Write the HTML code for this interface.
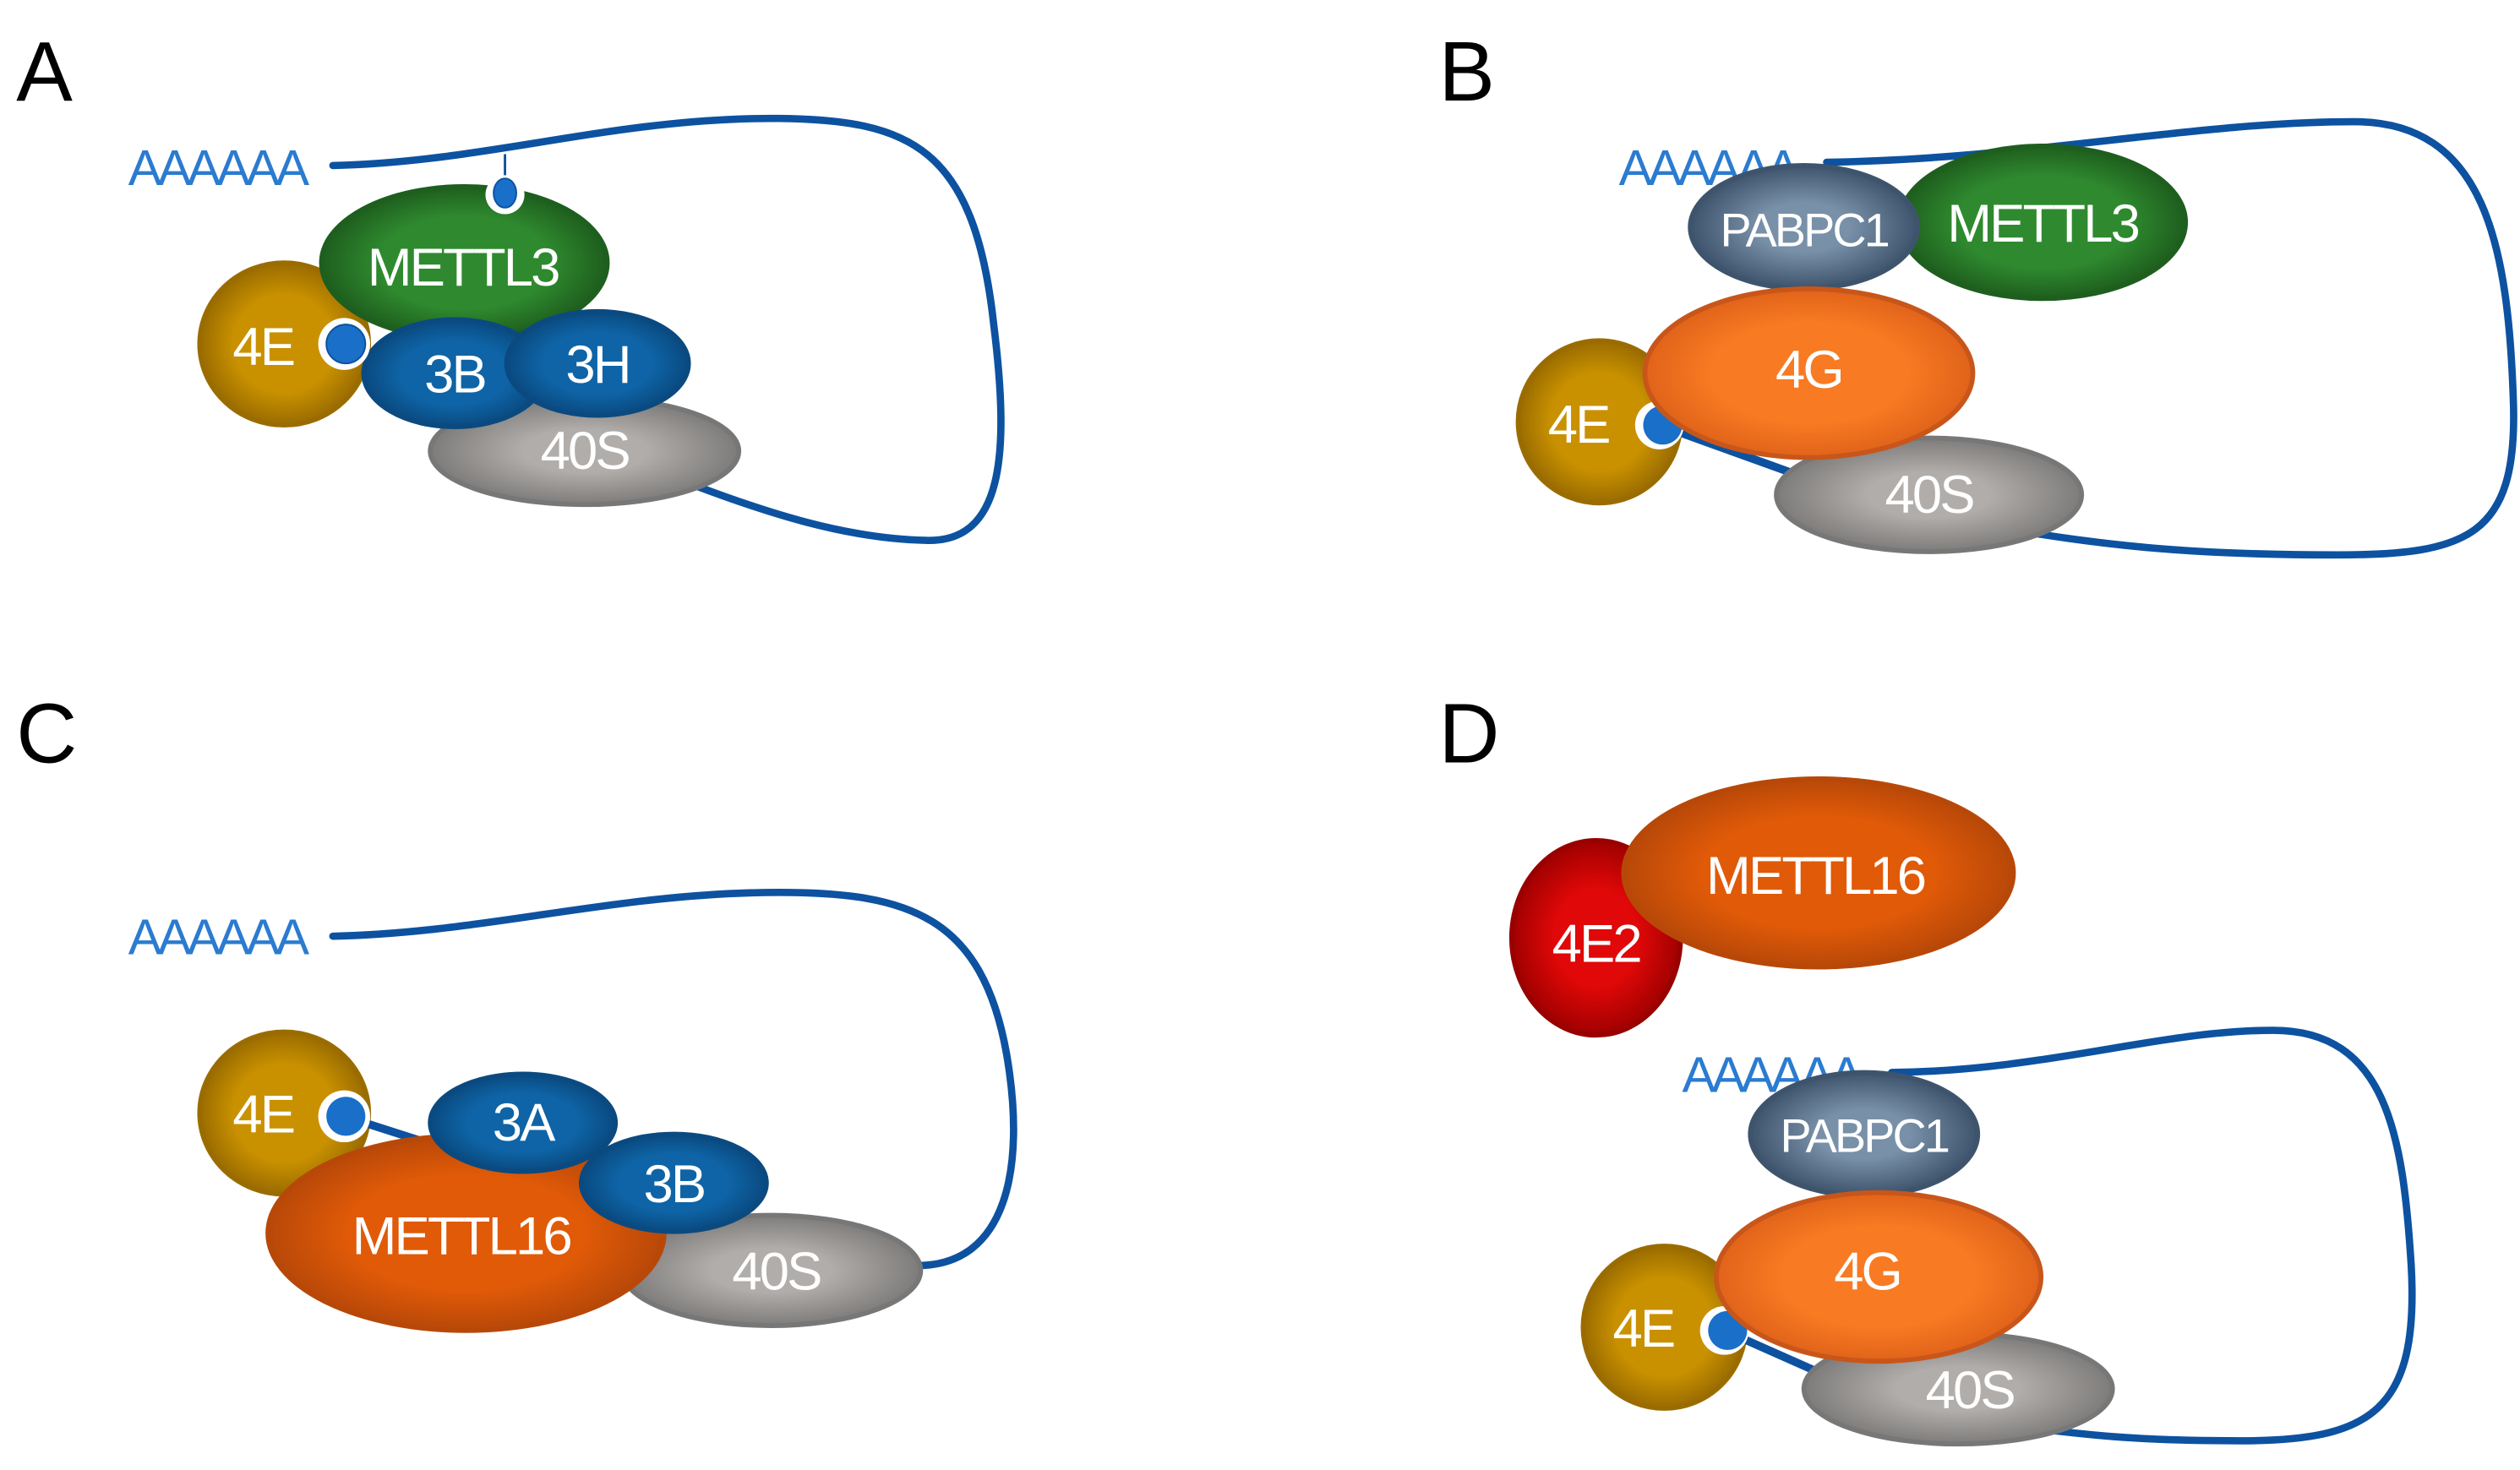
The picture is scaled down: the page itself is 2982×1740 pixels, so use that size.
<!DOCTYPE html>
<html><head><meta charset="utf-8"><style>
html,body{margin:0;padding:0;background:#fff;}
svg{display:block;}
text{font-family:"Liberation Sans",sans-serif;}
.l{fill:#fff;font-size:33px;text-anchor:middle;dominant-baseline:central;letter-spacing:-1.5px;}
.p{fill:#000;font-size:52px;}
.a{fill:#2b7bd0;font-size:31px;letter-spacing:-2.5px;}
.c{fill:none;stroke:#0d52a0;stroke-width:4.5;stroke-linecap:round;}
</style></head><body>
<svg width="2982" height="1740" viewBox="0 0 1552 906" preserveAspectRatio="none" xmlns="http://www.w3.org/2000/svg">
<defs>
<radialGradient id="gr"><stop offset="0.6" stop-color="#2f8a2f"/><stop offset="1" stop-color="#1e5e1e"/></radialGradient>
<radialGradient id="go"><stop offset="0.6" stop-color="#c99100"/><stop offset="1" stop-color="#9a6c00"/></radialGradient>
<radialGradient id="bl"><stop offset="0.6" stop-color="#0e64a6"/><stop offset="1" stop-color="#0a4a80"/></radialGradient>
<radialGradient id="gy"><stop offset="0.4" stop-color="#b0adab"/><stop offset="1" stop-color="#7e7c7a"/></radialGradient>
<radialGradient id="sl"><stop offset="0.4" stop-color="#7890a8"/><stop offset="1" stop-color="#3e546c"/></radialGradient>
<radialGradient id="or"><stop offset="0.6" stop-color="#f87a22"/><stop offset="1" stop-color="#e0631a"/></radialGradient>
<radialGradient id="rd"><stop offset="0.5" stop-color="#e00808"/><stop offset="1" stop-color="#a00000"/></radialGradient>
<radialGradient id="m16"><stop offset="0.6" stop-color="#e05a08"/><stop offset="1" stop-color="#b84808"/></radialGradient>
</defs>

<!-- Panel A -->
<text class="p" x="10" y="62">A</text>
<text class="a" x="79" y="114">AAAAAA</text>
<path class="c" d="M205,102 C300,100 380,72 480,73 C560,74 600,90 612,200 C622,280 618,335 570,333 C520,332 470,315 430,300"/>
<line x1="311" y1="95" x2="311" y2="118" stroke="#0d52a0" stroke-width="1.5"/>
<ellipse cx="175" cy="212" rx="52" ry="50" fill="url(#go)" stroke="#9a6c00" stroke-width="3"/>
<text class="l" x="162" y="214">4E</text>
<ellipse cx="360" cy="278" rx="95" ry="33" fill="url(#gy)" stroke="#777" stroke-width="3"/>
<text class="l" x="360" y="278">40S</text>
<ellipse cx="286" cy="162" rx="88" ry="47" fill="url(#gr)" stroke="#1e5e1e" stroke-width="3"/>
<text class="l" x="285" y="165">METTL3</text>
<circle cx="311" cy="120" r="12" fill="#fff"/>
<ellipse cx="311" cy="119" rx="7" ry="9" fill="#1a6fc8" stroke="#0d52a0"/>
<ellipse cx="280" cy="230" rx="56" ry="33" fill="url(#bl)" stroke="#0a4a80" stroke-width="3"/>
<text class="l" x="280" y="231">3B</text>
<ellipse cx="368" cy="224" rx="56" ry="32" fill="url(#bl)" stroke="#0a4a80" stroke-width="3"/>
<text class="l" x="368" y="225">3H</text>
<circle cx="212" cy="212" r="16" fill="#fff"/>
<circle cx="213" cy="212" r="12" fill="#1a6fc8" stroke="#0d52a0"/>

<!-- Panel B -->
<text class="p" x="886" y="62">B</text>
<text class="a" x="997" y="114">AAAAAA</text>
<path class="c" d="M1125,100 C1250,98 1350,75 1450,75 C1530,75 1545,150 1548,250 C1550,330 1520,342 1440,342 C1340,342 1290,335 1230,325"/>
<ellipse cx="985" cy="260" rx="50" ry="50" fill="url(#go)" stroke="#9a6c00" stroke-width="3"/>
<text class="l" x="972" y="262">4E</text>
<line x1="1022" y1="262" x2="1105" y2="292" stroke="#0d52a0" stroke-width="5"/>
<circle cx="1022" cy="262" r="15" fill="#fff"/>
<circle cx="1024" cy="262" r="12" fill="#1a6fc8"/>
<ellipse cx="1188" cy="305" rx="94" ry="35" fill="url(#gy)" stroke="#777" stroke-width="3"/>
<text class="l" x="1188" y="305">40S</text>
<ellipse cx="1258" cy="137" rx="88" ry="47" fill="url(#gr)" stroke="#1e5e1e" stroke-width="3"/>
<text class="l" x="1258" y="138">METTL3</text>
<ellipse cx="1111" cy="140" rx="70" ry="38" fill="url(#sl)" stroke="#3e546c" stroke-width="3"/>
<text class="l" x="1111" y="142" style="font-size:29px">PABPC1</text>
<ellipse cx="1114" cy="230" rx="101" ry="52" fill="url(#or)" stroke="#c8561a" stroke-width="3"/>
<text class="l" x="1114" y="228">4G</text>

<!-- Panel C -->
<text class="p" x="10" y="470">C</text>
<text class="a" x="79" y="588">AAAAAA</text>
<path class="c" d="M205,577 C300,575 380,550 480,550 C560,550 605,565 620,650 C632,720 620,780 565,780"/>
<ellipse cx="175" cy="686" rx="52" ry="50" fill="url(#go)" stroke="#9a6c00" stroke-width="3"/>
<text class="l" x="162" y="687">4E</text>
<line x1="212" y1="688" x2="265" y2="705" stroke="#0d52a0" stroke-width="5"/>
<ellipse cx="475" cy="783" rx="92" ry="34" fill="url(#gy)" stroke="#777" stroke-width="3"/>
<text class="l" x="478" y="784">40S</text>
<ellipse cx="287" cy="760" rx="122" ry="60" fill="url(#m16)" stroke="#b84808" stroke-width="3"/>
<text class="l" x="284" y="762">METTL16</text>
<ellipse cx="322" cy="692" rx="57" ry="30" fill="url(#bl)" stroke="#0a4a80" stroke-width="3"/>
<text class="l" x="322" y="692">3A</text>
<ellipse cx="415" cy="729" rx="57" ry="30" fill="url(#bl)" stroke="#0a4a80" stroke-width="3"/>
<text class="l" x="415" y="730">3B</text>
<circle cx="212" cy="688" r="16" fill="#fff"/>
<circle cx="213" cy="688" r="12" fill="#1a6fc8"/>

<!-- Panel D -->
<text class="p" x="886" y="470">D</text>
<ellipse cx="983" cy="578" rx="52" ry="60" fill="url(#rd)" stroke="#900" stroke-width="3"/>
<text class="l" x="983" y="582">4E2</text>
<ellipse cx="1120" cy="538" rx="120" ry="58" fill="url(#m16)" stroke="#b84808" stroke-width="3"/>
<text class="l" x="1118" y="540">METTL16</text>
<text class="a" x="1036" y="673">AAAAAA</text>
<path class="c" d="M1165,661 C1260,660 1330,635 1400,635 C1470,635 1480,700 1485,780 C1490,870 1460,888 1380,888 C1320,888 1290,885 1250,880"/>
<ellipse cx="1025" cy="818" rx="50" ry="50" fill="url(#go)" stroke="#9a6c00" stroke-width="3"/>
<text class="l" x="1012" y="819">4E</text>
<line x1="1062" y1="820" x2="1125" y2="848" stroke="#0d52a0" stroke-width="5"/>
<circle cx="1062" cy="820" r="15" fill="#fff"/>
<circle cx="1064" cy="820" r="12" fill="#1a6fc8"/>
<ellipse cx="1206" cy="856" rx="95" ry="34" fill="url(#gy)" stroke="#777" stroke-width="3"/>
<text class="l" x="1213" y="857">40S</text>
<ellipse cx="1148" cy="699" rx="70" ry="38" fill="url(#sl)" stroke="#3e546c" stroke-width="3"/>
<text class="l" x="1148" y="700" style="font-size:29px">PABPC1</text>
<ellipse cx="1157" cy="787" rx="100" ry="52" fill="url(#or)" stroke="#c8561a" stroke-width="3"/>
<text class="l" x="1150" y="784">4G</text>
</svg>
</body></html>
